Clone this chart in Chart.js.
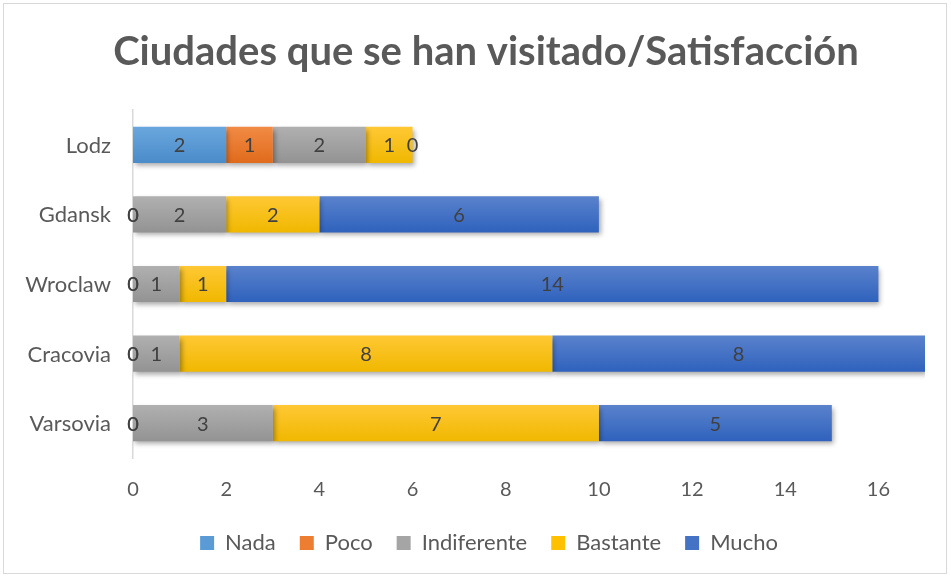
<!DOCTYPE html>
<html>
<head>
<meta charset="utf-8">
<script src="https://cdn.jsdelivr.net/npm/chart.js@4.4.0/dist/chart.umd.min.js"></script>
<style>
  html, body { margin: 0; padding: 0; background: #fff; }
  #wrap { width: 951px; height: 578px; }
</style>
</head>
<body>
<div id="wrap"><canvas id="satisfaccion_chart"></canvas></div>
<script>
// ciudades, de arriba a abajo
const ciudades = ['Lodz', 'Gdansk', 'Wroclaw', 'Cracovia', 'Varsovia'];
const nada = [2, 0, 0, 0, 0];
const poco = [1, 0, 0, 0, 0];
const indiferente = [2, 2, 1, 1, 3];
const bastante = [1, 2, 1, 8, 7];
const mucho = [0, 6, 14, 8, 5];
const xTicks = [0, 2, 4, 6, 8, 10, 12, 14, 16];
const titulo = 'Ciudades que se han visitado/Satisfacción';

const fontFam = 'Lato, "Open Sans", sans-serif';

// degradado vertical por barra (claro arriba, oscuro abajo)
function grad(top, bottom, solid) {
    return function (ctx) {
        const chart = ctx.chart;
        if (!chart.chartArea || ctx.type !== 'data') return solid;
        const y = chart.scales.y.getPixelForValue(ctx.dataIndex);
        const g = chart.ctx.createLinearGradient(0, y - 18, 0, y + 18);
        g.addColorStop(0, top);
        g.addColorStop(1, bottom);
        return g;
    };
}

const series = [
    { label: 'Nada', data: nada, solid: '#5B9BD5', top: '#6aa7de', bottom: '#4a8bc9' },
    { label: 'Poco', data: poco, solid: '#ED7D31', top: '#f18b45', bottom: '#e06b1c' },
    { label: 'Indiferente', data: indiferente, solid: '#A5A5A5', top: '#b0b0b0', bottom: '#939393' },
    { label: 'Bastante', data: bastante, solid: '#FFC000', top: '#ffc834', bottom: '#f0b800' },
    { label: 'Mucho', data: mucho, solid: '#4472C4', top: '#5a82cc', bottom: '#2f62bd' }
];

const valuesPlugin = {
    id: 'values',
    beforeDraw(chart) {
        const c = chart.ctx;
        c.save();
        c.strokeStyle = '#d9d9d9';
        c.lineWidth = 1;
        c.strokeRect(3.5, 3.5, 943, 570);
        // titulo
        c.font = 'bold 40px ' + fontFam;
        c.fillStyle = '#595959';
        c.textAlign = 'center';
        c.textBaseline = 'middle';
        c.fillText(titulo, 486, 52);
        // nombres de ciudades (eje y)
        const ys = chart.scales.y;
        c.font = '22px ' + fontFam;
        c.textAlign = 'right';
        ciudades.forEach(function (name, i) {
            c.fillText(name, ys.right - 22, ys.getPixelForValue(i) + 1);
        });
        c.restore();
    },
    beforeDatasetsDraw(chart) {
        const c = chart.ctx;
        c.save();
        c.shadowColor = 'rgba(0,0,0,0.35)';
        c.shadowBlur = 5;
        c.shadowOffsetX = 2;
        c.shadowOffsetY = 3;
    },
    afterDatasetsDraw(chart) {
        const c = chart.ctx;
        c.restore();
        c.save();
        c.font = '20px ' + fontFam;
        c.fillStyle = '#404040';
        c.textAlign = 'center';
        c.textBaseline = 'middle';
        chart.data.datasets.forEach(function (ds, i) {
            chart.getDatasetMeta(i).data.forEach(function (bar, j) {
                const p = bar.getProps(['x', 'y', 'base'], true);
                c.fillText(String(ds.data[j]), (p.x + p.base) / 2, p.y + 1);
            });
        });
        c.restore();
    }
};

new Chart(document.getElementById('satisfaccion_chart'), {
    type: 'bar',
    data: {
        labels: ciudades,
        datasets: series.map(function (s) {
            return {
                label: s.label,
                data: s.data,
                solid: s.solid,
                backgroundColor: grad(s.top, s.bottom, s.solid),
                borderWidth: 0,
                barPercentage: 0.52,
                categoryPercentage: 1
            };
        })
    },
    options: {
        indexAxis: 'y',
        responsive: true,
        maintainAspectRatio: false,
        animation: false,
        layout: { padding: { top: 110, right: 26, bottom: 14, left: 53 } },
        scales: {
            x: {
                stacked: true,
                min: 0,
                max: 17,
                grid: { display: false, drawTicks: false },
                border: { display: false },
                afterBuildTicks: function (scale) {
                    scale.ticks = xTicks.map(function (v) { return { value: v }; });
                },
                afterFit: function (scale) { scale.height = 50; },
                ticks: {
                    padding: 20,
                    color: '#595959',
                    font: { family: fontFam, size: 20 }
                }
            },
            y: {
                stacked: true,
                grid: { display: false, drawTicks: false },
                border: { display: true, color: '#d9d9d9', width: 1.5 },
                afterFit: function (scale) { scale.width = 80; },
                ticks: { display: false }
            }
        },
        plugins: {
            title: { display: false },
            legend: {
                position: 'bottom',
                labels: {
                    color: '#595959',
                    font: { family: fontFam, size: 22 },
                    boxWidth: 14,
                    boxHeight: 14,
                    padding: 24,
                    generateLabels: function (chart) {
                        return chart.data.datasets.map(function (ds, i) {
                            return {
                                text: ds.label,
                                fillStyle: ds.solid,
                                strokeStyle: ds.solid,
                                lineWidth: 0,
                                fontColor: '#595959',
                                datasetIndex: i,
                                hidden: false
                            };
                        });
                    }
                }
            },
            tooltip: { enabled: false }
        }
    },
    plugins: [valuesPlugin]
});
</script>
</body>
</html>
